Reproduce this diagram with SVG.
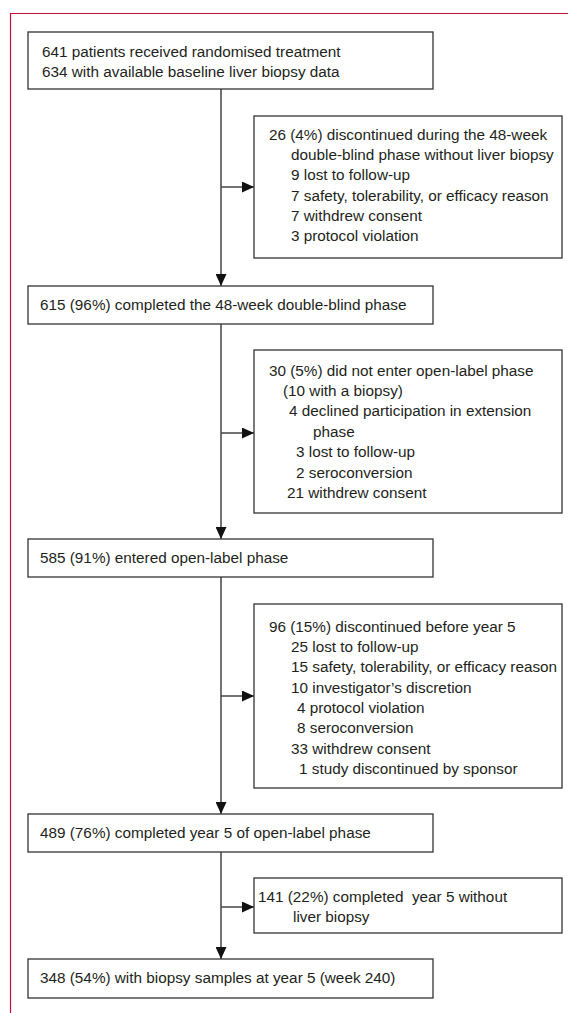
<svg xmlns="http://www.w3.org/2000/svg" width="568" height="1013" viewBox="0 0 568 1013">
<style>
.bg{fill:#ffffff}
.frame{fill:none;stroke:#c0103a;stroke-width:1.2}
.box{fill:#ffffff;stroke:#333333;stroke-width:1.3}
.t{font-family:"Liberation Sans",Arial,sans-serif;font-size:15.3px;fill:#231f20}
.c{fill:none;stroke:#444444;stroke-width:1.5}
</style>
<defs>
<marker id="ah" markerUnits="userSpaceOnUse" markerWidth="12" markerHeight="11" refX="12" refY="5.5" orient="auto">
<path d="M0,0 L12,5.5 L0,11 z" fill="#111111"/>
</marker>
</defs>
<rect class="bg" x="0" y="0" width="568" height="1013"/>
<path class="frame" d="M10.5,1013 V13.5 H568"/>

<g id="connectors">
<line class="c" x1="221" y1="89" x2="221" y2="286" marker-end="url(#ah)"/>
<line class="c" x1="221" y1="187" x2="254" y2="187" marker-end="url(#ah)"/>
<line class="c" x1="221" y1="324" x2="221" y2="539" marker-end="url(#ah)"/>
<line class="c" x1="221" y1="433" x2="254" y2="433" marker-end="url(#ah)"/>
<line class="c" x1="221" y1="577" x2="221" y2="814" marker-end="url(#ah)"/>
<line class="c" x1="221" y1="696" x2="254" y2="696" marker-end="url(#ah)"/>
<line class="c" x1="221" y1="852" x2="221" y2="959" marker-end="url(#ah)"/>
<line class="c" x1="221" y1="907" x2="254" y2="907" marker-end="url(#ah)"/>
</g>

<g id="n1">
<rect class="box" x="28" y="32" width="405" height="57"/>
<text class="t" x="42" y="57">641 patients received randomised treatment</text>
<text class="t" x="42" y="77">634 with available baseline liver biopsy data</text>
</g>

<g id="n2">
<rect class="box" x="254" y="116" width="308" height="142"/>
<text class="t" x="269" y="140">26 (4%) discontinued during the 48-week</text>
<text class="t" x="291" y="160">double-blind phase without liver biopsy</text>
<text class="t" x="291" y="180">9 lost to follow-up</text>
<text class="t" x="291" y="201">7 safety, tolerability, or efficacy reason</text>
<text class="t" x="291" y="221">7 withdrew consent</text>
<text class="t" x="291" y="241">3 protocol violation</text>
</g>

<g id="n3">
<rect class="box" x="28" y="286" width="405" height="38"/>
<text class="t" x="40" y="310">615 (96%) completed the 48-week double-blind phase</text>
</g>

<g id="n4">
<rect class="box" x="254" y="350" width="308" height="163"/>
<text class="t" x="269" y="375.5">30 (5%) did not enter open-label phase</text>
<text class="t" x="283" y="396">(10 with a biopsy)</text>
<text class="t" x="289" y="416">4 declined participation in extension</text>
<text class="t" x="313" y="437">phase</text>
<text class="t" x="296" y="457">3 lost to follow-up</text>
<text class="t" x="296" y="478">2 seroconversion</text>
<text class="t" x="287" y="498">21 withdrew consent</text>
</g>

<g id="n5">
<rect class="box" x="28" y="539" width="405" height="38"/>
<text class="t" x="40" y="563">585 (91%) entered open-label phase</text>
</g>

<g id="n6">
<rect class="box" x="254" y="604" width="308" height="184"/>
<text class="t" x="269" y="631.5">96 (15%) discontinued before year 5</text>
<text class="t" x="291" y="652">25 lost to follow-up</text>
<text class="t" x="291" y="672">15 safety, tolerability, or efficacy reason</text>
<text class="t" x="291" y="692.5">10 investigator’s discretion</text>
<text class="t" x="297" y="713">4 protocol violation</text>
<text class="t" x="297" y="733">8 seroconversion</text>
<text class="t" x="291" y="753.5">33 withdrew consent</text>
<text class="t" x="299" y="774">1 study discontinued by sponsor</text>
</g>

<g id="n7">
<rect class="box" x="28" y="814" width="405" height="38"/>
<text class="t" x="40" y="838">489 (76%) completed year 5 of open-label phase</text>
</g>

<g id="n8">
<rect class="box" x="254" y="878" width="308" height="55"/>
<text class="t" x="258" y="901.5" xml:space="preserve">141 (22%) completed  year 5 without</text>
<text class="t" x="293" y="921.5">liver biopsy</text>
</g>

<g id="n9">
<rect class="box" x="28" y="959" width="405" height="39"/>
<text class="t" x="40" y="983">348 (54%) with biopsy samples at year 5 (week 240)</text>
</g>
</svg>
